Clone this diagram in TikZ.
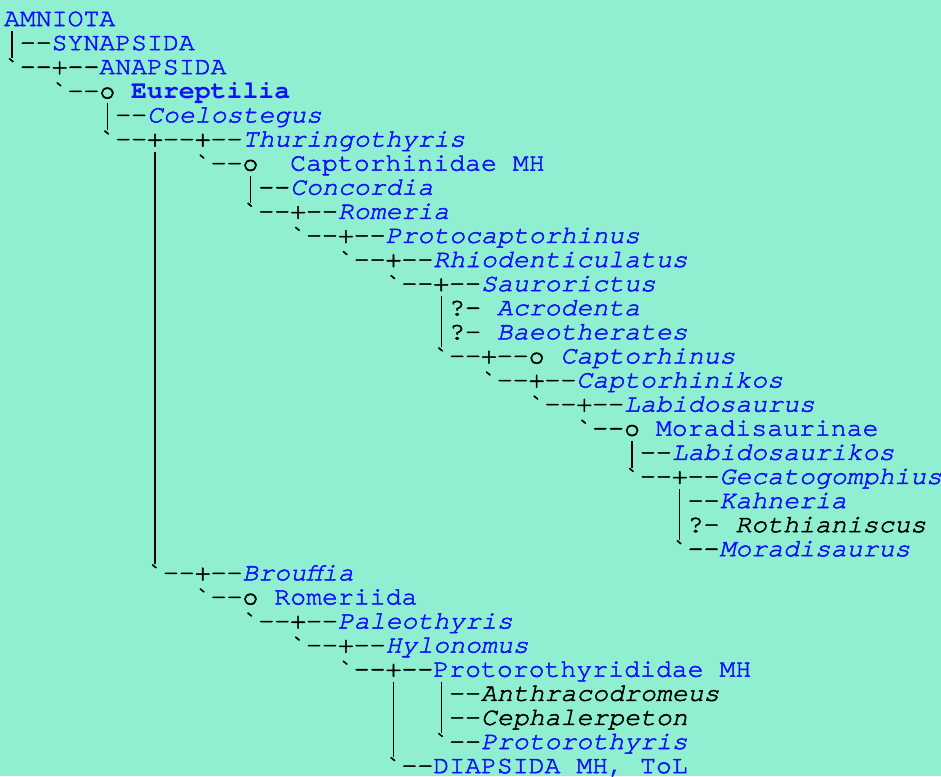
\documentclass[tikz,border=0pt]{standalone}
\usepackage{fontspec}
\setmonofont{TeX Gyre Cursor}[FakeStretch=1.06,
  UprightFeatures={FakeBold=2}, ItalicFeatures={FakeBold=2}]
\usepackage{xcolor}
\usepackage{tikz}
\usetikzlibrary{positioning}

\definecolor{paper}{RGB}{143,239,208}
\definecolor{cladeblue}{RGB}{16,16,250}
\newcommand\treefont{\ttfamily\fontsize{18.75pt}{18pt}\selectfont}
\newcommand\bq{\char96\relax}
% a bar one cell wide that reaches into the next row
\newcommand\vb{\makebox[11.925pt]{\rule[-6pt]{1.1pt}{20.25pt}}}

\begin{document}
\begin{tikzpicture}[x=11.925pt, y=-18.075pt,
    every node/.style={anchor=base west, inner sep=0pt, outer sep=0pt},
    edge/.style={text=black, font=\treefont},
    clade/.style={text=cladeblue, font=\treefont},
    group/.style={text=cladeblue, font=\treefont\bfseries},
    genus/.style={text=cladeblue, font=\treefont\itshape},
    nolink/.style={text=black, font=\treefont\itshape}]
  \fill[paper] (0pt,0pt) rectangle (705.75pt,-582pt);
  \useasboundingbox (0pt,0pt) rectangle (705.75pt,-582pt);
  \begin{scope}[shift={(3pt,-1.425pt)}]
    % root and outgroups
    \node[clade] (amniota) at (0,1) {AMNIOTA};
    \node[edge] (e2) at (0,2) {\vb--};
    \node[clade] (synapsida) at (3,2) {SYNAPSIDA};
    \node[edge] (e3) at (0,3) {\bq--+--};
    \node[clade] (anapsida) at (6,3) {ANAPSIDA};
    \node[edge] (e4) at (3,4) {\bq--o};
    \node[group] (eureptilia) at (8,4) {Eureptilia};
    \node[edge] (e5) at (6,5) {\vb--};
    \node[genus] (coelostegus) at (9,5) {Coelostegus};
    \node[edge] (e6) at (6,6) {\bq--+--+--};
    \node[genus] (thuringothyris) at (15,6) {Thuringothyris};
    % captorhinids
    \node[edge] (e7) at (12,7) {\bq--o};
    \node[clade] (captorhinidae) at (18,7) {Captorhinidae MH};
    \node[edge] (e8) at (15,8) {\vb--};
    \node[genus] (concordia) at (18,8) {Concordia};
    \node[edge] (e9) at (15,9) {\bq--+--};
    \node[genus] (romeria) at (21,9) {Romeria};
    \node[edge] (e10) at (18,10) {\bq--+--};
    \node[genus] (protocaptorhinus) at (24,10) {Protocaptorhinus};
    \node[edge] (e11) at (21,11) {\bq--+--};
    \node[genus] (rhiodenticulatus) at (27,11) {Rhiodenticulatus};
    \node[edge] (e12) at (24,12) {\bq--+--};
    \node[genus] (saurorictus) at (30,12) {Saurorictus};
    \node[edge] (e13) at (27,13) {\vb?-};
    \node[genus] (acrodenta) at (31,13) {Acrodenta};
    \node[edge] (e14) at (27,14) {\vb?-};
    \node[genus] (baeotherates) at (31,14) {Baeotherates};
    \node[edge] (e15) at (27,15) {\bq--+--o};
    \node[genus] (captorhinus) at (35,15) {Captorhinus};
    \node[edge] (e16) at (30,16) {\bq--+--};
    \node[genus] (captorhinikos) at (36,16) {Captorhinikos};
    \node[edge] (e17) at (33,17) {\bq--+--};
    \node[genus] (labidosaurus) at (39,17) {Labidosaurus};
    \node[edge] (e18) at (36,18) {\bq--o};
    \node[clade] (moradisaurinae) at (41,18) {Moradisaurinae};
    \node[edge] (e19) at (39,19) {\vb--};
    \node[genus] (labidosaurikos) at (42,19) {Labidosaurikos};
    \node[edge] (e20) at (39,20) {\bq--+--};
    \node[genus] (gecatogomphius) at (45,20) {Gecatogomphius};
    \node[edge] (e21) at (42,21) {\vb--};
    \node[genus] (kahneria) at (45,21) {Kahneria};
    \node[edge] (e22) at (42,22) {\vb?-};
    \node[nolink] (rothianiscus) at (46,22) {Rothianiscus};
    \node[edge] (e23) at (42,23) {\bq--};
    \node[genus] (moradisaurus) at (45,23) {Moradisaurus};
    % long stem down to the romeriids
    \foreach \r in {7,...,23}
      \node[edge] (stem\r) at (9,\r) {\vb};
    \node[edge] (e24) at (9,24) {\bq--+--};
    \node[genus] (brouffia) at (15,24) {Brouffia};
    \node[edge] (e25) at (12,25) {\bq--o};
    \node[clade] (romeriida) at (17,25) {Romeriida};
    \node[edge] (e26) at (15,26) {\bq--+--};
    \node[genus] (paleothyris) at (21,26) {Paleothyris};
    \node[edge] (e27) at (18,27) {\bq--+--};
    \node[genus] (hylonomus) at (24,27) {Hylonomus};
    \node[edge] (e28) at (21,28) {\bq--+--};
    \node[clade] (protorothyrididae) at (27,28) {Protorothyrididae MH};
    \foreach \r in {29,30,31}
      \node[edge] (fork\r) at (24,\r) {\vb};
    \node[edge] (e29) at (27,29) {\vb--};
    \node[nolink] (anthracodromeus) at (30,29) {Anthracodromeus};
    \node[edge] (e30) at (27,30) {\vb--};
    \node[nolink] (cephalerpeton) at (30,30) {Cephalerpeton};
    \node[edge] (e31) at (27,31) {\bq--};
    \node[genus] (protorothyris) at (30,31) {Protorothyris};
    \node[edge] (e32) at (24,32) {\bq--};
    \node[clade] (diapsida) at (27,32) {DIAPSIDA MH, ToL};
  \end{scope}
\end{tikzpicture}
\end{document}
